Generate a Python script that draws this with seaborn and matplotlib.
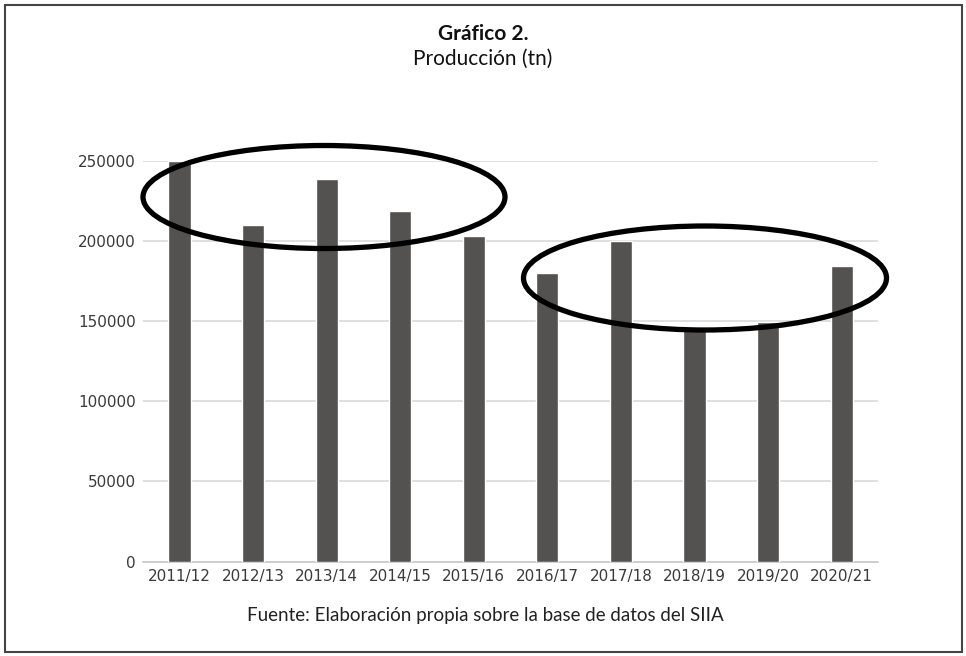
import matplotlib
matplotlib.use('Agg')
import matplotlib.pyplot as plt
import seaborn as sns
import pandas as pd
from matplotlib.patches import Ellipse, Rectangle

campanias = ['2011/12', '2012/13', '2013/14', '2014/15', '2015/16',
             '2016/17', '2017/18', '2018/19', '2019/20', '2020/21']
produccion = [250000, 210000, 238500, 218700, 203000,
              179800, 199900, 144500, 149600, 184300]
ticks_y = [0, 50000, 100000, 150000, 200000, 250000]

df = pd.DataFrame({'campania': campanias, 'produccion': produccion})

sns.set_theme(style='white')
plt.rcParams['font.family'] = ['DejaVu Sans']

fig = plt.figure(figsize=(9.66, 6.56), dpi=100)
ax = fig.add_axes([0.1477, 0.1438, 0.7617, 0.6112])

sns.barplot(data=df, x='campania', y='produccion', color='#545250',
            saturation=1, width=0.3, ax=ax, zorder=3)

ax.set_ylim(0, 250000)
ax.set_yticks(ticks_y)
ax.set_yticklabels([str(t) for t in ticks_y])
ax.yaxis.grid(True, color='#d9d9d9', linewidth=1.2, zorder=0)
ax.set_axisbelow(True)
ax.set_xlabel('')
ax.set_ylabel('')
ax.tick_params(axis='both', length=0, labelsize=11, colors='#3a3a3a', pad=5)
for lbl in ax.get_xticklabels() + ax.get_yticklabels():
    lbl.set_fontfamily('DejaVu Sans')
for s in ['top', 'right', 'left']:
    ax.spines[s].set_visible(False)
ax.spines['bottom'].set_color('#c8c8c8')
ax.spines['bottom'].set_linewidth(1.2)

# titulos
fig.text(0.5, 1 - 34 / 656, 'Gráfico 2.', ha='center', va='center',
         fontsize=15, fontweight='bold', family='Lato', color='#111111')
fig.text(0.5, 1 - 59 / 656, 'Producción (tn)', ha='center', va='center',
         fontsize=15, family='Lato', color='#111111')
fig.text(0.502, 1 - 615 / 656, 'Fuente: Elaboración propia sobre la base de datos del SIIA',
         ha='center', va='center', fontsize=13.5, family='Lato', color='#222222')

# elipses
fig.patches.append(Ellipse((324 / 966, 1 - 197 / 656), 362 / 966, 103 / 656,
                           transform=fig.transFigure, fill=False,
                           edgecolor='black', linewidth=3.8, zorder=10))
fig.patches.append(Ellipse((705 / 966, 1 - 278 / 656), 363 / 966, 104 / 656,
                           transform=fig.transFigure, fill=False,
                           edgecolor='black', linewidth=3.8, zorder=10))

# marco
fig.patches.append(Rectangle((5 / 966, 4 / 656), 957 / 966, 647 / 656,
                             transform=fig.transFigure, fill=False,
                             edgecolor='#444444', linewidth=1.5))

plt.savefig('out.png', dpi=100)
